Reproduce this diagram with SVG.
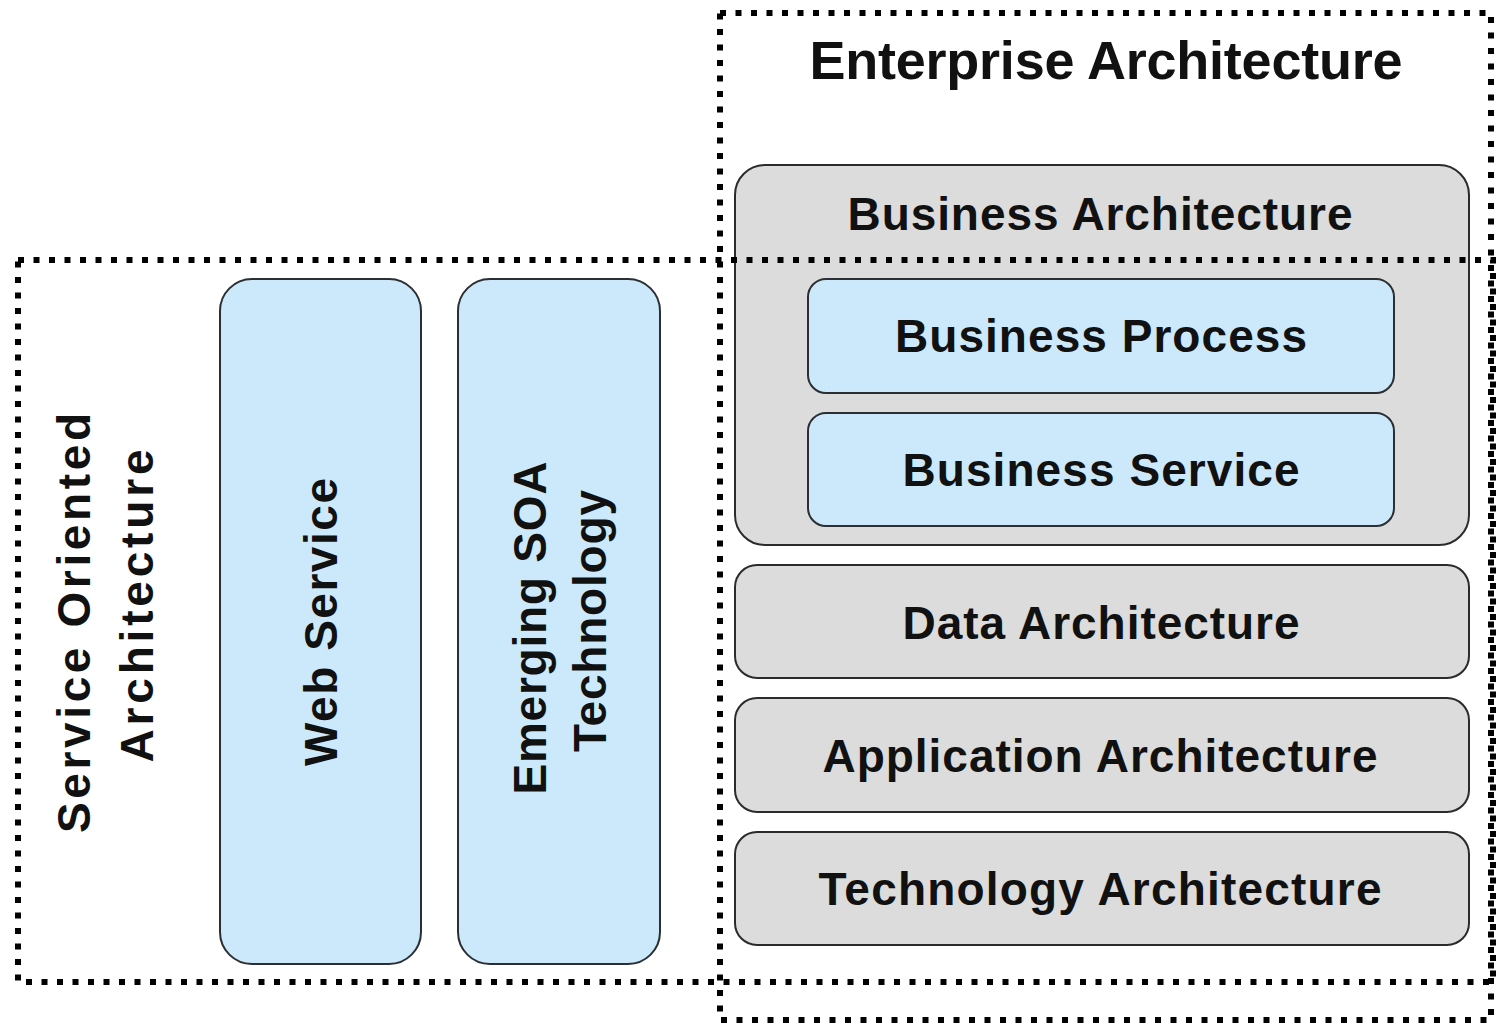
<svg xmlns="http://www.w3.org/2000/svg" width="1505" height="1024" viewBox="0 0 1505 1024">
<style>
text{font-family:"Liberation Sans",Arial,sans-serif;font-weight:bold;fill:#111;text-anchor:middle}
.lbl{font-size:46px}
.title{font-size:54px}
.blue{fill:#cce9fb;stroke:#2b2f33;stroke-width:2}
.gray{fill:#dcdcdc;stroke:#2b2b2b;stroke-width:2}
.dot{fill:none;stroke:#000;stroke-width:6;stroke-dasharray:6 9.5}
</style>
<rect width="1505" height="1024" fill="#fff"/>
<g id="web-service">
<rect class="blue" x="220" y="279" width="201" height="685" rx="32"/>
<text class="lbl" transform="translate(337,622) rotate(-90)" textLength="288" lengthAdjust="spacing">Web Service</text>
</g>
<g id="emerging-soa">
<rect class="blue" x="458" y="279" width="202" height="685" rx="32"/>
<text class="lbl" transform="translate(546,628) rotate(-90)" textLength="333" lengthAdjust="spacing">Emerging SOA</text>
<text class="lbl" transform="translate(606,621) rotate(-90)" textLength="262" lengthAdjust="spacing">Technology</text>
</g>
<g id="business-architecture">
<rect class="gray" x="735" y="165" width="734" height="380" rx="30"/>
<text class="lbl" x="1100" y="230" textLength="505" lengthAdjust="spacing">Business Architecture</text>
</g>
<g id="business-process">
<rect class="blue" x="808" y="279" width="586" height="114" rx="18"/>
<text class="lbl" x="1101" y="352" textLength="412" lengthAdjust="spacing">Business Process</text>
</g>
<g id="business-service">
<rect class="blue" x="808" y="413" width="586" height="113" rx="18"/>
<text class="lbl" x="1101" y="486" textLength="397" lengthAdjust="spacing">Business Service</text>
</g>
<g id="data-architecture">
<rect class="gray" x="735" y="565" width="734" height="113" rx="22"/>
<text class="lbl" x="1101" y="639" textLength="397" lengthAdjust="spacing">Data Architecture</text>
</g>
<g id="application-architecture">
<rect class="gray" x="735" y="698" width="734" height="114" rx="22"/>
<text class="lbl" x="1100" y="772" textLength="555" lengthAdjust="spacing">Application Architecture</text>
</g>
<g id="technology-architecture">
<rect class="gray" x="735" y="832" width="734" height="113" rx="22"/>
<text class="lbl" x="1100" y="905" textLength="563" lengthAdjust="spacing">Technology Architecture</text>
</g>
<g id="soa">
<rect class="dot" x="18" y="260" width="1475" height="722"/>
<text class="lbl" transform="translate(90,623) rotate(-90)" textLength="420" lengthAdjust="spacing">Service Oriented</text>
<text class="lbl" transform="translate(153,606) rotate(-90)" textLength="313" lengthAdjust="spacing">Architecture</text>
</g>
<g id="enterprise-architecture">
<rect class="dot" x="720" y="13" width="771" height="1007"/>
<text class="title" x="1106" y="79" textLength="593" lengthAdjust="spacing">Enterprise Architecture</text>
</g>
<g id="connectors"></g>
</svg>
